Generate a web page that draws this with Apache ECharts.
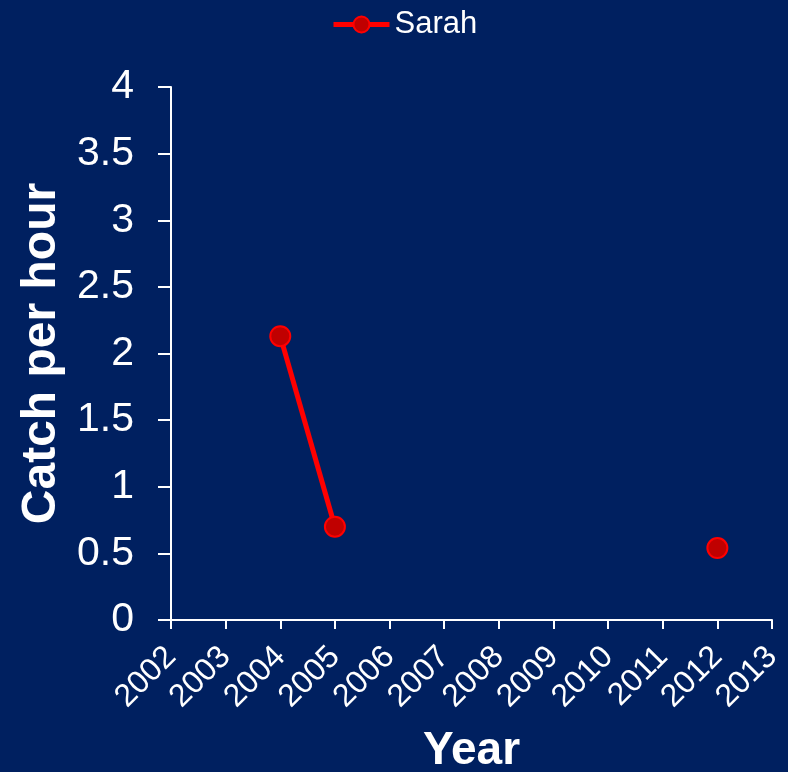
<!DOCTYPE html>
<html><head><meta charset="utf-8">
<script src="https://cdn.jsdelivr.net/npm/echarts@6/dist/echarts.min.js"></script>
<style>html,body{margin:0;padding:0;background:#002060}#c{width:788px;height:772px}</style>
</head><body><div id="c"></div>
<script>
var seriesName = 'Sarah';
var years = [2004, 2005, 2006, 2012];
var catchPerHour = [2.13, 0.70, null, 0.54];
var xTicks = [2002, 2013];
var yTicks = [0, 4];

var data = years.map(function(y, i){ return [y, catchPerHour[i] === null ? '-' : catchPerHour[i]]; });
var chart = echarts.init(document.getElementById('c'));
var font = '"Liberation Sans", Arial, sans-serif';
chart.setOption({
  backgroundColor: '#002060',
  animation: false,
  legend: {
    top: 4, left: 326, itemWidth: 56, itemHeight: 20, itemGap: 6,
    textStyle: {color: '#fff', fontSize: 31, fontFamily: font},
    lineStyle: {width: 5},
    data: [seriesName]
  },
  grid: {left: 171, right: 16, top: 87, bottom: 152, containLabel: false, outerBoundsMode: 'none'},
  xAxis: {
    type: 'value', min: xTicks[0], max: xTicks[1], interval: 1,
    name: 'Year', nameLocation: 'middle', nameGap: 108,
    nameTextStyle: {color: '#fff', fontSize: 46, fontWeight: 'bold', fontFamily: font},
    axisLine: {lineStyle: {color: '#fff', width: 2}},
    axisTick: {show: true, length: 9, lineStyle: {color: '#fff', width: 2}},
    axisLabel: {color: '#fff', fontSize: 32, fontFamily: font, rotate: 45, margin: 32, formatter: function(v){return String(v);}},
    splitLine: {show: false}
  },
  yAxis: {
    type: 'value', min: yTicks[0], max: yTicks[1], interval: 0.5,
    name: 'Catch per hour', nameLocation: 'middle', nameGap: 103, nameRotate: 90,
    nameTextStyle: {color: '#fff', fontSize: 48, fontWeight: 'bold', fontFamily: font},
    axisLine: {show: true, lineStyle: {color: '#fff', width: 2}},
    axisTick: {show: true, length: 13, lineStyle: {color: '#fff', width: 2}},
    axisLabel: {color: '#fff', fontSize: 41, fontFamily: font, margin: 37},
    splitLine: {show: false}
  },
  series: [{
    name: seriesName, type: 'line', data: data, connectNulls: false,
    symbol: 'circle', symbolSize: 20,
    lineStyle: {color: '#ff0000', width: 5},
    itemStyle: {color: '#c00000', borderColor: '#ff0000', borderWidth: 2}
  }]
});
</script></body></html>
